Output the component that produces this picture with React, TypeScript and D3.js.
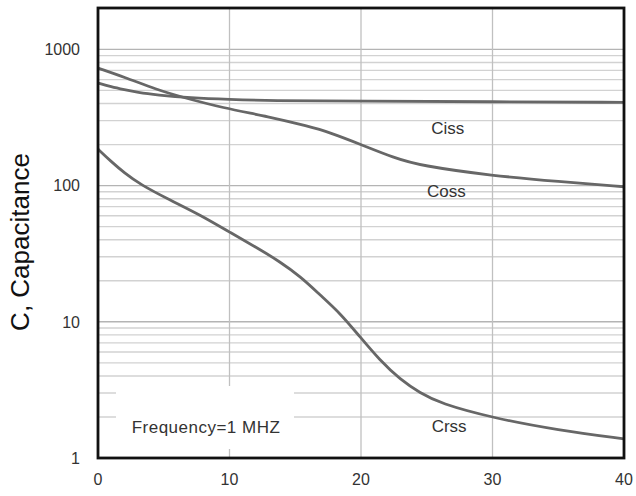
import * as d3 from "d3"

// Capacitance vs drain-source voltage
const cissX = [0, 1, 2, 3, 4.5, 7, 10, 13, 20, 30, 40]
const cissY = [565, 530, 505, 482, 462, 440, 428, 420, 416, 412, 408]

const cossX = [0, 2, 4.5, 6.2, 9.5, 13, 16, 17.6, 20, 22.5, 24.5, 30, 35, 40]
const cossY = [728, 625, 505, 451, 371, 320, 272, 246, 200, 160, 140, 118, 107, 98]

const crssX = [0, 1, 2, 3.2, 5.5, 7.75, 10, 12.3, 13.8, 15.4, 16.9, 18.4, 19.9, 21.4, 23, 24.5, 26, 30, 35, 40]
const crssY = [185, 150, 124, 102, 78, 61, 45.5, 34, 27.7, 21.5, 15.7, 11.6, 7.8, 5.25, 3.75, 3.0, 2.52, 1.97, 1.6, 1.38]

const xTicks = [0, 10, 20, 30, 40]
const yTicks = [1, 10, 100, 1000]

const W = 636
const H = 496
const PLOT = { left: 98, right: 624, top: 8, bottom: 458 }

const series = [
  { name: "Ciss", xs: cissX, ys: cissY, label: { x: 26.6, y: 240 } },
  { name: "Coss", xs: cossX, ys: cossY, label: { x: 26.5, y: 83 } },
  { name: "Crss", xs: crssX, ys: crssY, label: { x: 26.7, y: 1.56 } },
]

export default function App() {
  const xScale = d3.scaleLinear().domain([0, 40]).range([PLOT.left, PLOT.right])
  const yScale = d3.scaleLog().domain([1, 2010]).range([PLOT.bottom, PLOT.top])

  // minor grid 1..1000
  const gridVals: number[] = []
  for (let dec = 1; dec < 1000; dec *= 10) {
    for (let m = 1; m <= 9; m++) gridVals.push(dec * m)
  }
  gridVals.push(1000)

  const line = d3
    .line<[number, number]>()
    .x((d) => xScale(d[0]))
    .y((d) => yScale(d[1]))
    .curve(d3.curveBasis)

  const font = "Arial, 'Liberation Sans', Helvetica, sans-serif"

  return (
    <svg
      width={W}
      height={H}
      style={{ position: "absolute", left: 0, top: 0, background: "#fff" }}
      fontFamily={font}
    >
      <rect x={0} y={0} width={W} height={H} fill="#fff" />

      {/* horizontal grid */}
      {gridVals.map((v, i) => {
        const major = Math.abs(Math.log10(v) - Math.round(Math.log10(v))) < 1e-9
        return (
          <line
            key={"h" + i}
            x1={PLOT.left}
            x2={PLOT.right}
            y1={yScale(v)}
            y2={yScale(v)}
            stroke={major ? "#b4b4b4" : "#d2d2d2"}
            strokeWidth={1.3}
          />
        )
      })}

      {/* vertical grid */}
      {xTicks.slice(1, -1).map((t) => (
        <line
          key={"v" + t}
          x1={xScale(t)}
          x2={xScale(t)}
          y1={PLOT.top}
          y2={PLOT.bottom}
          stroke="#c0c0c0"
          strokeWidth={1.3}
        />
      ))}

      {/* white box behind the frequency note */}
      <rect x={116} y={386} width={178} height={63} fill="#fff" />

      {/* curves */}
      {series.map((s) => (
        <path
          key={s.name}
          d={line(s.xs.map((x, i) => [x, s.ys[i]] as [number, number])) || ""}
          fill="none"
          stroke="#676767"
          strokeWidth={2.8}
        />
      ))}

      {/* frame */}
      <rect
        x={PLOT.left}
        y={PLOT.top}
        width={PLOT.right - PLOT.left}
        height={PLOT.bottom - PLOT.top}
        fill="none"
        stroke="#111"
        strokeWidth={2.8}
      />

      {/* y tick labels */}
      {yTicks.map((t) => (
        <text
          key={"yt" + t}
          x={80}
          y={yScale(t)}
          dy="0.36em"
          textAnchor="end"
          fontSize={16}
          fill="#333"
        >
          {t}
        </text>
      ))}

      {/* x tick labels */}
      {xTicks.map((t) => (
        <text
          key={"xt" + t}
          x={xScale(t)}
          y={485}
          textAnchor="middle"
          fontSize={16}
          fill="#333"
        >
          {t}
        </text>
      ))}

      {/* curve labels */}
      {series.map((s) => (
        <text
          key={"l" + s.name}
          x={xScale(s.label.x)}
          y={yScale(s.label.y)}
          textAnchor="middle"
          fontSize={17}
          fill="#333"
        >
          {s.name}
        </text>
      ))}

      <text x={206} y={433} textAnchor="middle" fontSize={17} letterSpacing={0.5} fill="#333">
        Frequency=1 MHZ
      </text>

      {/* y axis title */}
      <text
        transform="translate(28.5,242) rotate(-90)"
        textAnchor="middle"
        fontSize={26}
        fill="#111"
      >
        C, Capacitance
      </text>
    </svg>
  )
}
